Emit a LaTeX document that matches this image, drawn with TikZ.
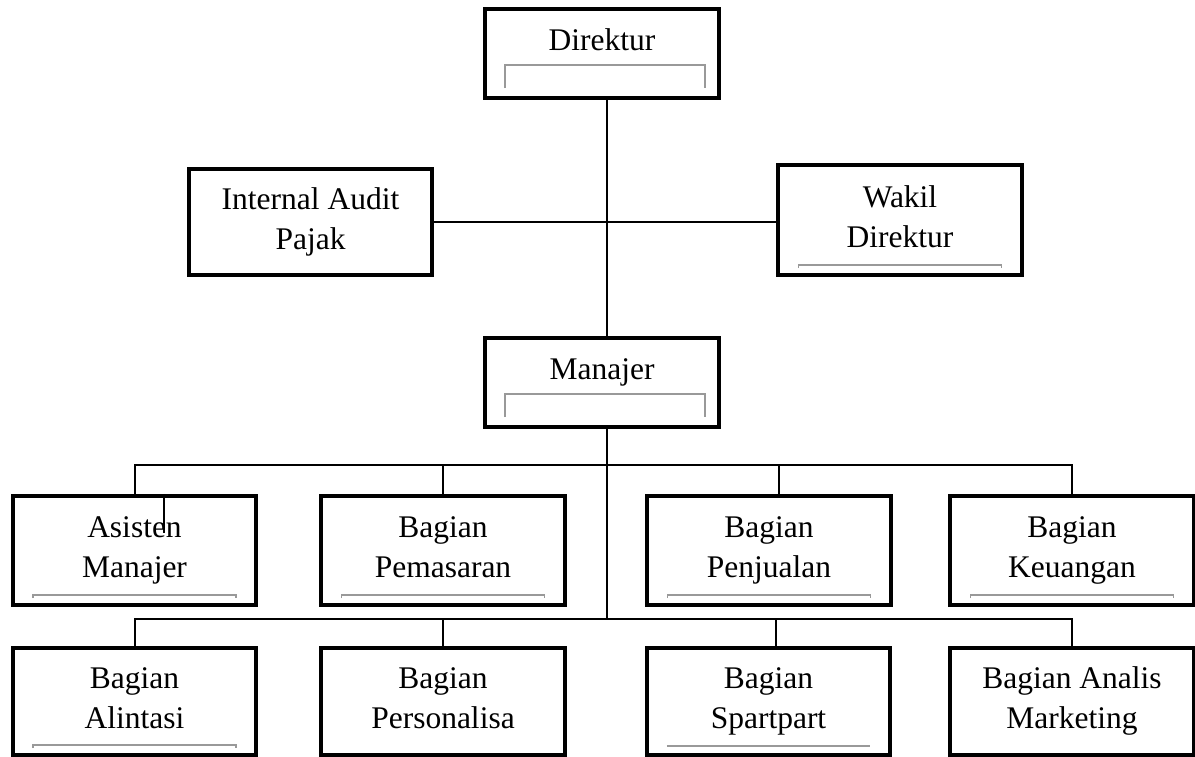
\documentclass[tikz,border=0pt]{standalone}
\usepackage{fontspec}
\setmainfont{Liberation Serif}
\usetikzlibrary{calc}

\tikzstyle{unit}=[draw=black,line width=0.1cm,minimum width=6.075cm,inner sep=0pt,align=center,text height=1.55cm,text depth=0.2cm,font=\fontsize{22.4}{28.45}\selectfont]
\tikzstyle{head}=[unit,minimum width=5.85cm,minimum height=2.225cm,text height=0.55cm,text depth=0.725cm]
\tikzstyle{link}=[draw=black,line width=0.05cm]
\tikzstyle{tab}=[draw=black!40,line width=0.03cm]

\begin{document}
\begin{tikzpicture}[x=0.025cm,y=-0.025cm]

   \useasboundingbox (0,0) rectangle (1195,756);

% Pimpinan
   \node[head] (dir) at (602,53.5) {Direktur};
   \node[unit,minimum height=2.65cm] (iap) at (310.5,222) {Internal Audit\\Pajak};
   \node[unit,minimum height=2.75cm] (wdir) at (900,220) {Wakil\\Direktur};
   \node[head] (man) at (602,382.5) {Manajer};

% Bagian baris 1
   \node[unit,minimum height=2.725cm] (asm) at (134.5,550.5) {Asisten\\Manajer};
   \node[unit,minimum height=2.725cm] (pem) at (443,550.5) {Bagian\\Pemasaran};
   \node[unit,minimum height=2.725cm] (pnj) at (769,550.5) {Bagian\\Penjualan};
   \node[unit,minimum height=2.725cm] (keu) at (1072,550.5) {Bagian\\Keuangan};

% Bagian baris 2
   \node[unit,minimum height=2.675cm] (ali) at (134.5,701.5) {Bagian\\Alintasi};
   \node[unit,minimum height=2.675cm] (per) at (443,701.5) {Bagian\\Personalisa};
   \node[unit,minimum height=2.675cm] (spa) at (768.5,701.5) {Bagian\\Spartpart};
   \node[unit,minimum height=2.675cm] (ana) at (1072,701.5) {Bagian Analis\\Marketing};

   \coordinate (spine) at (607,0);
   \coordinate (bus1) at (607,465);
   \coordinate (bus2) at (607,619);

   \draw[link] (dir.south -| spine) -- (man.north -| spine);
   \draw[link] (iap.east) -- (iap.east -| wdir.west);
   \draw[link] (man.south -| spine) -- (bus2);

   \draw[link] (asm.north) -- (asm.north |- bus1) -- (keu.north |- bus1) -- (keu.north);
   \draw[link] (pem.north) -- (pem.north |- bus1);
   \draw[link] ($(pnj.north)+(10,0)$) -- ($(pnj.north |- bus1)+(10,0)$);
   \draw[link] ($(asm.north)+(29,0)$) -- ++(0,39);

   \draw[link] (ali.north) -- (ali.north |- bus2) -- (ana.north |- bus2) -- (ana.north);
   \draw[link] (per.north) -- (per.north |- bus2);
   \draw[link] ($(spa.north)+(7,0)$) -- ($(spa.north |- bus2)+(7,0)$);

   % garis abu-abu
   \foreach \n in {dir,man}
      \draw[tab] ($(\n.south west)+(22,-12)$) -- ($(\n.south west)+(22,-35)$)
         -- ($(\n.south east)+(-16,-35)$) -- ($(\n.south east)+(-16,-12)$);
   \foreach \n in {wdir,asm,pem,pnj,keu,ali}
      \draw[tab] ($(\n.south west)+(22,-9)$) -- ++(0,-3)
         -- ($(\n.south east)+(-22,-12)$) -- ++(0,3);
   \draw[tab,line width=0.06cm] ($(spa.south west)+(22,-11)$) -- ($(spa.south east)+(-22,-11)$);

\end{tikzpicture}
\end{document}
